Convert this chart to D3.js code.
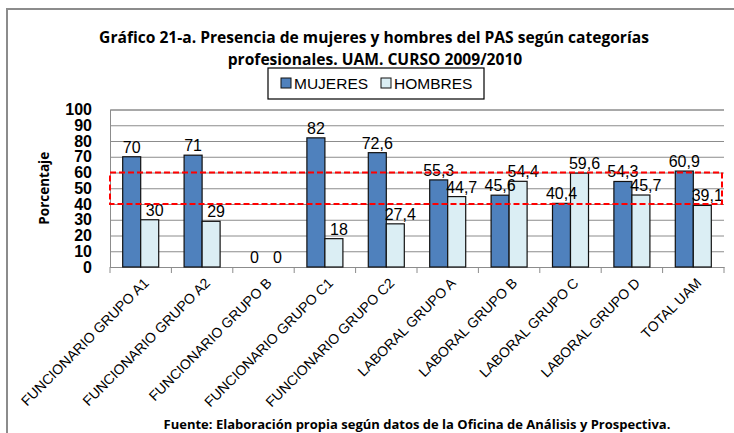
<!DOCTYPE html>
<html>
<head>
<meta charset="utf-8">
<script src="https://cdn.jsdelivr.net/npm/d3@7"></script>
<style>
  body { margin: 0; background: #fff; }
  svg { display: block; }
</style>
</head>
<body>
<svg id="chart" width="734" height="433"></svg>
<script>
// data
const categories = [
  'FUNCIONARIO GRUPO A1', 'FUNCIONARIO GRUPO A2', 'FUNCIONARIO GRUPO B',
  'FUNCIONARIO GRUPO C1', 'FUNCIONARIO GRUPO C2', 'LABORAL GRUPO A',
  'LABORAL GRUPO B', 'LABORAL GRUPO C', 'LABORAL GRUPO D', 'TOTAL UAM'
];
const series = ['MUJERES', 'HOMBRES'];
const mujeres = [70, 71, 0, 82, 72.6, 55.3, 45.6, 40.4, 54.3, 60.9];
const hombres = [30, 29, 0, 18, 27.4, 44.7, 54.4, 59.6, 45.7, 39.1];
const yTicks = [0, 10, 20, 30, 40, 50, 60, 70, 80, 90, 100];
const band = [40, 60]; // highlighted range

const colors = { MUJERES: '#4f81bd', HOMBRES: '#dbeef4' };
const fmt = v => String(v).replace('.', ',');

const svg = d3.select('#chart');
const plotL = 110, plotR = 724, plotT = 109.5, plotB = 267;

// outer frame (cut at right/bottom like the original)
svg.append('path')
  .attr('d', 'M7,440 L7,9 L740,9')
  .attr('fill', 'none')
  .attr('stroke', '#8c8c8c')
  .attr('stroke-width', 2);

// title
const title = svg.append('text')
  .attr('text-anchor', 'middle')
  .attr('font-family', 'Open Sans, sans-serif')
  .attr('font-weight', 'bold')
  .attr('font-size', 15.6)
  .attr('fill', '#000');
title.append('tspan').attr('x', 374).attr('y', 43)
  .text('Gráfico 21-a. Presencia de mujeres y hombres del PAS según categorías');
title.append('tspan').attr('x', 375).attr('y', 65)
  .text('profesionales. UAM. CURSO 2009/2010');

// scales
const x = d3.scaleBand().domain(categories).range([plotL, plotR]).padding(0);
const xs = d3.scaleBand().domain(series).range([0, x.bandwidth()])
  .paddingInner(0).paddingOuter(0.705);
const y = d3.scaleLinear().domain([0, 100]).range([plotB, plotT]);

// grid + y axis
const yAxis = svg.append('g')
  .attr('transform', `translate(${plotL},0)`)
  .call(d3.axisLeft(y).tickValues(yTicks).tickSize(-(plotR - plotL)).tickPadding(18));
yAxis.select('.domain').attr('stroke', '#8c8c8c');
yAxis.selectAll('.tick line').attr('stroke', '#8c8c8c');
yAxis.selectAll('.tick text')
  .attr('font-family', 'Liberation Sans, Arial, sans-serif')
  .attr('font-weight', 'bold')
  .attr('font-size', 16)
  .attr('fill', '#000');

// x axis
const xAxis = svg.append('g')
  .attr('transform', `translate(0,${plotB})`)
  .call(d3.axisBottom(x).tickSize(0).tickFormat(''));
xAxis.select('.domain').attr('stroke', '#8c8c8c');
xAxis.selectAll('.tick').remove();
xAxis.selectAll('line.sep')
  .data(categories.concat(['end']))
  .enter()
  .append('line')
  .attr('class', 'sep')
  .attr('x1', (d, i) => i < categories.length ? x(d) : plotR)
  .attr('x2', (d, i) => i < categories.length ? x(d) : plotR)
  .attr('y1', 0)
  .attr('y2', 6)
  .attr('stroke', '#8c8c8c');

// bars
const rows = categories.map((c, i) => ({ cat: c, MUJERES: mujeres[i], HOMBRES: hombres[i] }));
const groups = svg.selectAll('g.grp')
  .data(rows)
  .enter()
  .append('g')
  .attr('class', 'grp')
  .attr('transform', d => `translate(${x(d.cat)},0)`);

groups.selectAll('rect')
  .data(d => series.map(s => ({ s, v: d[s] })).filter(e => e.v > 0))
  .enter()
  .append('rect')
  .attr('x', d => xs(d.s))
  .attr('y', d => y(d.v))
  .attr('width', xs.bandwidth())
  .attr('height', d => y(0) - y(d.v))
  .attr('fill', d => colors[d.s])
  .attr('stroke', '#111')
  .attr('stroke-width', 1.2);

// value labels
groups.selectAll('text.val')
  .data(d => series.map(s => ({ s, v: d[s] })))
  .enter()
  .append('text')
  .attr('class', 'val')
  .attr('x', d => xs(d.s) + xs.bandwidth() / 2 + (d.s === 'HOMBRES' ? 5 : 0))
  .attr('y', d => y(d.v) - 4)
  .attr('text-anchor', 'middle')
  .attr('font-family', 'Liberation Sans, Arial, sans-serif')
  .attr('font-size', 16)
  .attr('fill', '#000')
  .text(d => fmt(d.v));

// highlighted band
svg.append('rect')
  .attr('x', plotL)
  .attr('y', y(band[1]))
  .attr('width', plotR - 2 - plotL)
  .attr('height', y(band[0]) - y(band[1]))
  .attr('fill', 'none')
  .attr('stroke', '#ff0000')
  .attr('stroke-width', 2)
  .attr('stroke-dasharray', '6,3');

// category labels
svg.selectAll('text.cat')
  .data(categories)
  .enter()
  .append('text')
  .attr('class', 'cat')
  .attr('text-anchor', 'end')
  .attr('font-family', 'Liberation Sans, Arial, sans-serif')
  .attr('font-size', 14)
  .attr('fill', '#000')
  .attr('transform', d => `translate(${x(d) + x.bandwidth() / 2 + 9},${plotB + 17}) rotate(-45)`)
  .text(d => d);

// y title
svg.append('text')
  .attr('transform', `translate(49,${(plotT + plotB) / 2}) rotate(-90)`)
  .attr('text-anchor', 'middle')
  .attr('font-family', 'Open Sans, sans-serif')
  .attr('font-weight', 'bold')
  .attr('font-size', 13.5)
  .text('Porcentaje');

// legend
const lg = svg.append('g');
lg.append('rect')
  .attr('x', 268).attr('y', 68).attr('width', 216).attr('height', 31)
  .attr('fill', '#fff').attr('stroke', '#000').attr('stroke-width', 1.2);
const lgX = [281, 381];
series.forEach((s, i) => {
  lg.append('rect')
    .attr('x', lgX[i]).attr('y', 78).attr('width', 10).attr('height', 10)
    .attr('fill', colors[s]).attr('stroke', '#111');
  lg.append('text')
    .attr('x', lgX[i] + 13).attr('y', 89)
    .attr('font-family', 'Liberation Sans, Arial, sans-serif')
    .attr('font-size', 15.5)
    .text(s);
});

// source
svg.append('text')
  .attr('x', 417).attr('y', 429)
  .attr('text-anchor', 'middle')
  .attr('font-family', 'Open Sans, sans-serif')
  .attr('font-weight', 'bold')
  .attr('font-size', 13)
  .text('Fuente: Elaboración  propia según datos de la Oficina de Análisis y Prospectiva.');
</script>
</body>
</html>
